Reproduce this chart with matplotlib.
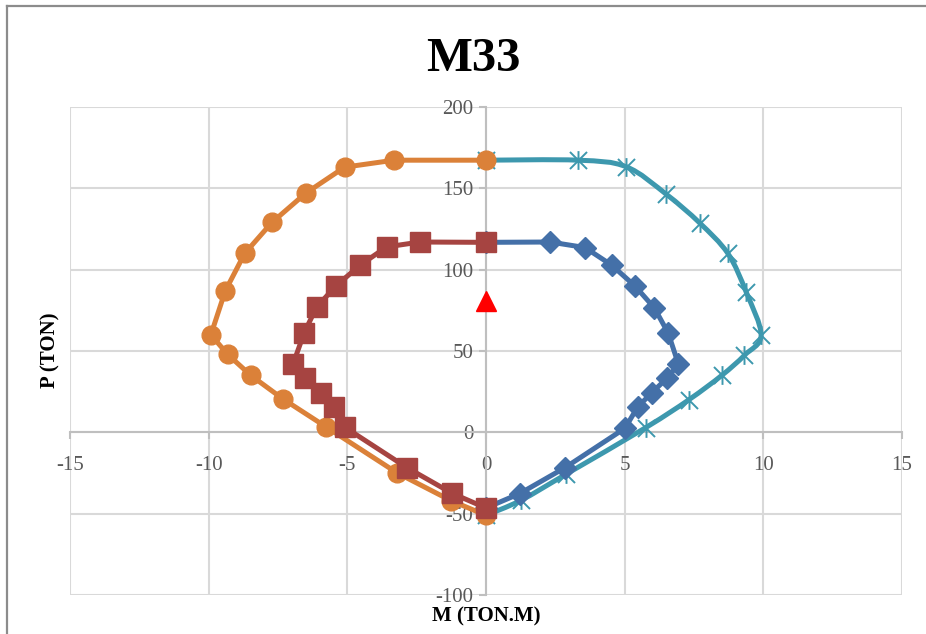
import matplotlib
matplotlib.use("Agg")
import matplotlib.pyplot as plt
import numpy as np
from matplotlib.lines import Line2D
from matplotlib.path import Path
from matplotlib.patches import PathPatch

# interaction curve values
orange_m = [0, -3.32, -5.10, -6.50, -7.72, -8.70, -9.40, -9.92, -9.32, -8.48, -7.32, -5.78, -3.20, -1.26, 0]
orange_p = [167.3, 167.3, 163.0, 147.0, 129.0, 110.0, 87.0, 60.0, 48.0, 35.0, 20.5, 3.5, -25.0, -42.0, -51.0]
teal_m = [0, 3.31, 5.05, 6.49, 7.70, 8.72, 9.38, 9.92, 9.32, 8.50, 7.32, 5.76, 2.88, 1.26, 0]
teal_p = [167.3, 167.3, 163.3, 146.5, 128.8, 110.0, 86.3, 59.7, 47.4, 35.0, 20.1, 2.9, -25.8, -41.8, -51.0]
red_m = [0, -2.38, -3.58, -4.54, -5.41, -6.11, -6.56, -6.95, -6.53, -5.95, -5.48, -5.08, -2.85, -1.22, 0]
red_p = [116.8, 117.0, 114.0, 102.8, 90.0, 77.0, 61.0, 42.3, 33.7, 24.4, 15.6, 3.0, -21.7, -37.5, -46.5]
blue_m = [0, 2.31, 3.57, 4.53, 5.37, 6.07, 6.57, 6.94, 6.52, 5.97, 5.47, 5.01, 2.85, 1.21, 0]
blue_p = [116.8, 117.0, 113.6, 102.8, 90.0, 76.5, 61.0, 41.8, 33.2, 24.2, 15.6, 2.5, -21.7, -37.7, -46.5]
load_m = [0]
load_p = [81]

x_ticks = [-15, -10, -5, 0, 5, 10, 15]
y_ticks = [-100, -50, 0, 50, 100, 150, 200]

ORANGE = "#DB8139"
RED = "#A64441"
BLUE = "#4470A8"
TEAL = "#3D98AE"
GRID = "#D9D9D9"
TICK_GREY = "#595959"

plt.rcParams["font.family"] = ["Liberation Serif", "DejaVu Serif"]
plt.rcParams["axes.unicode_minus"] = False


def smooth_path(xs, ys):
    # Excel-style smoothed line: Catmull-Rom segments drawn as cubic Beziers
    pts = np.column_stack([xs, ys]).astype(float)
    verts = [pts[0]]
    codes = [Path.MOVETO]
    n = len(pts)
    for i in range(n - 1):
        p0 = pts[i - 1] if i > 0 else pts[i]
        p1, p2 = pts[i], pts[i + 1]
        p3 = pts[i + 2] if i + 2 < n else pts[i + 1]
        verts += [p1 + (p2 - p0) / 6, p2 - (p3 - p1) / 6, p2]
        codes += [Path.CURVE4] * 3
    return Path(verts, codes)


star = Path([(-1, -1), (1, 1), (-1, 1), (1, -1), (0, -1.1), (0, 1.1)],
            [Path.MOVETO, Path.LINETO, Path.MOVETO, Path.LINETO, Path.MOVETO, Path.LINETO])

fig = plt.figure(figsize=(9.26, 6.34), dpi=100)
ax = fig.add_axes([70 / 926, 1 - 595 / 634, 832 / 926, 488 / 634])

# teal: smoothed line with asterisk markers
ax.add_patch(PathPatch(smooth_path(teal_m, teal_p), facecolor="none", edgecolor=TEAL,
                       lw=3.6, capstyle="round", joinstyle="round", zorder=3))
ax.plot(teal_m, teal_p, ls="none", marker=star, ms=13.5, mec=TEAL, mfc="none", mew=1.4, zorder=3)

ax.plot(blue_m, blue_p, color=BLUE, lw=3.6, marker="D", ms=11, mfc=BLUE, mec=BLUE,
        solid_joinstyle="round", zorder=4)
ax.plot(orange_m, orange_p, color=ORANGE, lw=3.6, marker="o", ms=13.5, mfc=ORANGE, mec=ORANGE,
        solid_joinstyle="round", zorder=5)
ax.plot(red_m, red_p, color=RED, lw=3.6, marker="s", ms=14, mfc=RED, mec=RED,
        solid_joinstyle="round", zorder=6)
ax.plot(load_m, load_p, ls="none", marker="^", ms=14, color="#FF0000", zorder=7)

ax.set_xlim(-15, 15)
ax.set_ylim(-100, 200)
ax.set_xticks(x_ticks)
ax.set_yticks(y_ticks)
ax.grid(True, color=GRID, lw=1.5, zorder=0)
ax.set_axisbelow(True)

for side in ("top", "right"):
    ax.spines[side].set_visible(False)
ax.spines["left"].set_position(("data", 0))
ax.spines["bottom"].set_position(("data", 0))
for side in ("left", "bottom"):
    ax.spines[side].set_color("#BFBFBF")
    ax.spines[side].set_linewidth(1.5)
    ax.spines[side].set_zorder(1)

ax.tick_params(axis="both", colors="#BFBFBF", labelcolor=TICK_GREY, labelsize=15,
               direction="out", length=5, width=1.5)
ax.tick_params(axis="x", pad=12)
ax.tick_params(axis="y", pad=4)
for lbl in ax.get_xticklabels() + ax.get_yticklabels():
    lbl.set_zorder(2)

fig.text(473 / 926, 1 - 59 / 634, "M33", ha="center", va="center", fontsize=35, fontweight="bold")
fig.text(486 / 926, 1 - 616 / 634, "M (TON.M)", ha="center", va="center", fontsize=15, fontweight="bold")
fig.text(50 / 926, 1 - 350 / 634, "P (TON)", ha="center", va="center", rotation=90,
         fontsize=15, fontweight="bold")

# chart frame (left and top edges visible in the crop)
fig.add_artist(Line2D([7 / 926, 7 / 926], [0, 1 - 6 / 634], transform=fig.transFigure,
                      color="#8C8C8C", lw=1.6))
fig.add_artist(Line2D([7 / 926, 1], [1 - 6 / 634, 1 - 6 / 634], transform=fig.transFigure,
                      color="#8C8C8C", lw=1.6))

fig.savefig("out.png", dpi=100)
plt.close(fig)
